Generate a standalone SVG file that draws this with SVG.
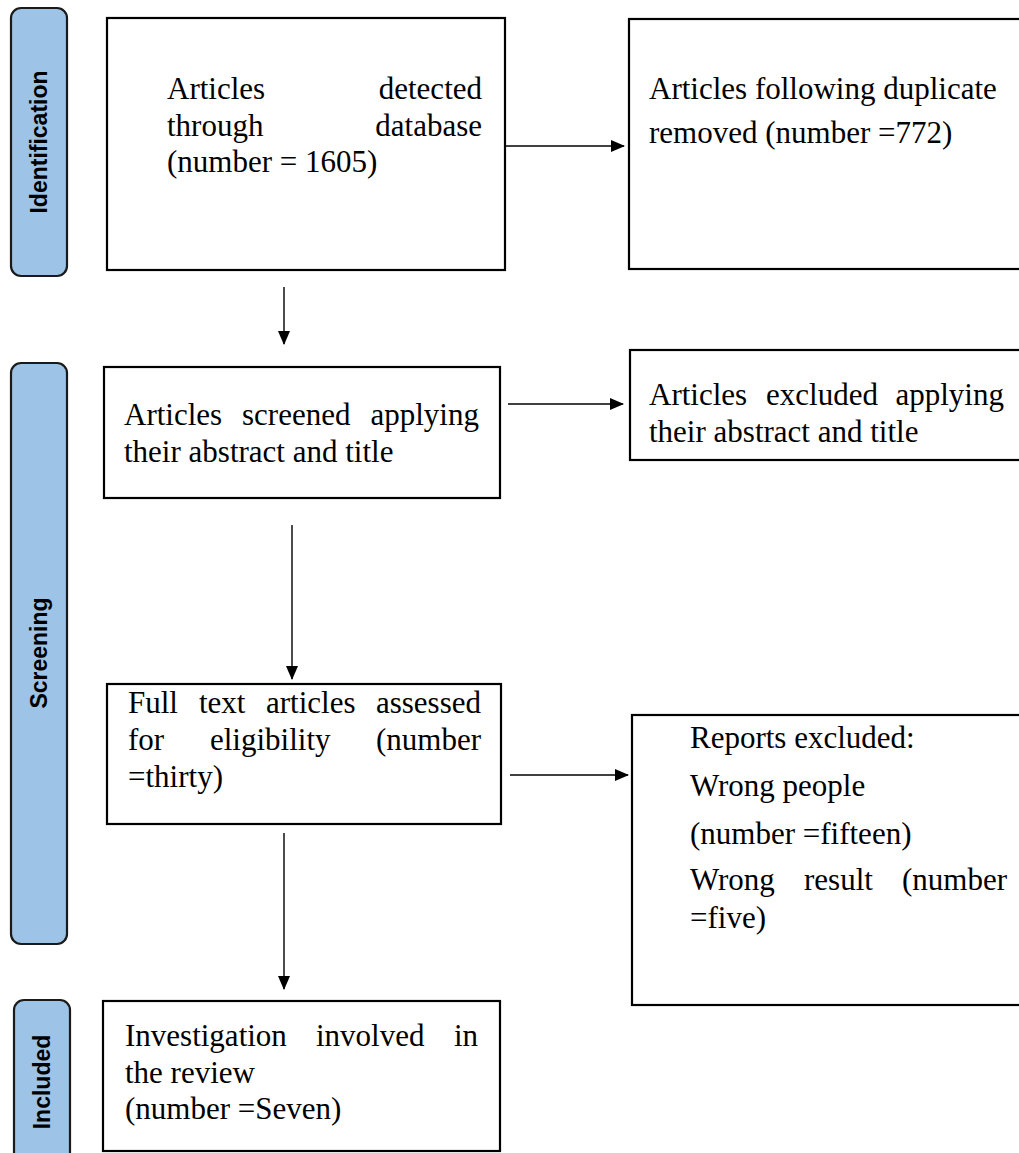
<svg xmlns="http://www.w3.org/2000/svg" width="1019" height="1153" viewBox="0 0 1019 1153">
<style>
.side{fill:#9DC3E6;stroke:#1a1a1a;stroke-width:2.2}
.box{fill:#ffffff;stroke:#000;stroke-width:2.2}
.st{font-family:"Liberation Sans",Arial,sans-serif;font-weight:bold;font-size:23px;fill:#000}
.t{font-family:"Liberation Serif","Times New Roman",serif;font-size:31px;fill:#000}
.e{text-anchor:end}
.conn line{stroke:#000;stroke-width:1.4}
</style>
<defs>
<marker id="ah" markerWidth="14" markerHeight="12" refX="13" refY="6" orient="auto" markerUnits="userSpaceOnUse">
<path d="M0,0 L14,6 L0,12 Z" fill="#000"/>
</marker>
</defs>
<rect width="1019" height="1153" fill="#fff"/>

<g id="stage-identification">
<rect class="side" x="11" y="8" width="56" height="268" rx="10"/>
<text class="st" transform="translate(39,142) rotate(-90)" text-anchor="middle" dominant-baseline="central">Identification</text>
</g>
<g id="stage-screening">
<rect class="side" x="11" y="363" width="56" height="581" rx="10"/>
<text class="st" transform="translate(39,653) rotate(-90)" text-anchor="middle" dominant-baseline="central">Screening</text>
</g>
<g id="stage-included">
<rect class="side" x="14" y="1000" width="56" height="170" rx="10"/>
<text class="st" transform="translate(42,1082) rotate(-90)" text-anchor="middle" dominant-baseline="central">Included</text>
</g>

<g id="n-detected">
<rect class="box" x="107" y="18" width="398" height="252"/>
<text class="t" x="167" y="99">Articles</text>
<text class="t e" x="482" y="99">detected</text>
<text class="t" x="167" y="136">through</text>
<text class="t e" x="482" y="136">database</text>
<text class="t" x="167" y="172">(number = 1605)</text>
</g>

<g id="n-duplicates">
<rect class="box" x="629" y="19" width="420" height="250"/>
<text class="t" x="649" y="99">Articles following duplicate</text>
<text class="t" x="649" y="143">removed (number =772)</text>
</g>

<g id="n-screened">
<rect class="box" x="104" y="367" width="396" height="131"/>
<text class="t" x="124" y="425">Articles</text>
<text class="t" x="242" y="425">screened</text>
<text class="t e" x="479" y="425">applying</text>
<text class="t" x="124" y="462">their abstract and title</text>
</g>

<g id="n-excluded">
<rect class="box" x="630" y="350" width="420" height="110"/>
<text class="t" x="649" y="405">Articles</text>
<text class="t" x="766" y="405">excluded</text>
<text class="t e" x="1004" y="405">applying</text>
<text class="t" x="649" y="442">their abstract and title</text>
</g>

<g id="n-fulltext">
<rect class="box" x="107" y="684" width="394" height="140"/>
<text class="t" x="128" y="713">Full</text>
<text class="t" x="199" y="713">text</text>
<text class="t" x="266" y="713">articles</text>
<text class="t e" x="481" y="713">assessed</text>
<text class="t" x="128" y="750">for</text>
<text class="t" x="210" y="750">eligibility</text>
<text class="t e" x="481" y="750">(number</text>
<text class="t" x="128" y="787">=thirty)</text>
</g>

<g id="n-reports">
<rect class="box" x="632" y="715" width="420" height="290"/>
<text class="t" x="690" y="748">Reports excluded:</text>
<text class="t" x="690" y="796">Wrong people</text>
<text class="t" x="690" y="844">(number =fifteen)</text>
<text class="t" x="690" y="890">Wrong</text>
<text class="t" x="804" y="890">result</text>
<text class="t e" x="1007" y="890">(number</text>
<text class="t" x="690" y="928">=five)</text>
</g>

<g id="n-included">
<rect class="box" x="103" y="1001" width="397" height="150"/>
<text class="t" x="125" y="1046">Investigation</text>
<text class="t" x="316" y="1046">involved</text>
<text class="t e" x="478" y="1046">in</text>
<text class="t" x="125" y="1083">the review</text>
<text class="t" x="125" y="1119">(number =Seven)</text>
</g>

<g id="connectors" class="conn">
<line x1="505" y1="146" x2="624" y2="146" marker-end="url(#ah)"/>
<line x1="284" y1="287" x2="284" y2="344" marker-end="url(#ah)"/>
<line x1="508" y1="404" x2="623" y2="404" marker-end="url(#ah)"/>
<line x1="292" y1="525" x2="292" y2="679" marker-end="url(#ah)"/>
<line x1="510" y1="775" x2="628" y2="775" marker-end="url(#ah)"/>
<line x1="284" y1="833" x2="284" y2="989" marker-end="url(#ah)"/>
</g>
</svg>
